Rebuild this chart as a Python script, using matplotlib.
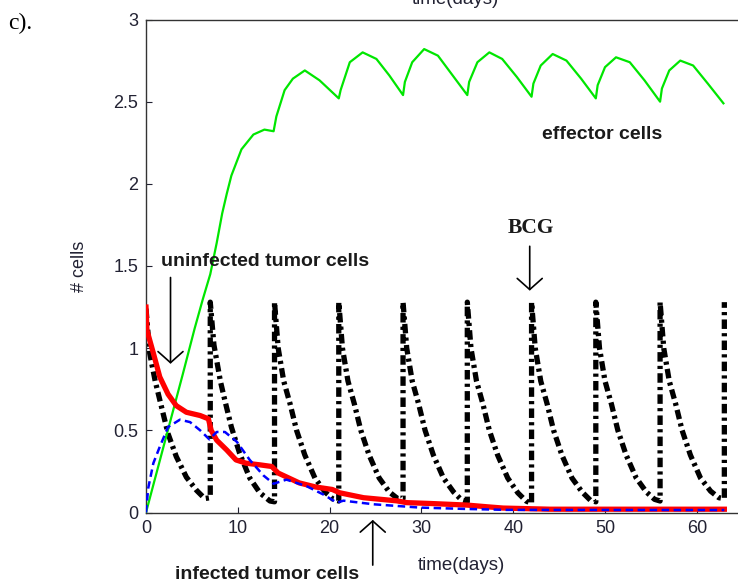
import matplotlib
matplotlib.use('Agg')
import matplotlib.pyplot as plt

plt.rcParams['font.family'] = ['Liberation Sans', 'DejaVu Sans']

# effector cells (green)
eff_t = [0, 1, 2, 3, 4, 5.3, 6.2, 7.0, 7.7, 8.3, 8.8, 9.3, 10.4, 11.7, 12.9, 13.9,
         14.2, 15.1, 16.0, 17.3, 18.9, 21.0, 21.2, 22.2, 23.6, 25.1, 26.5, 28.0,
         28.2, 29.0, 30.3, 31.8, 33.4, 35.0, 35.2, 36.1, 37.4, 38.8, 40.4, 42.0,
         42.2, 43.0, 44.3, 45.8, 47.4, 49.0, 49.2, 50.0, 51.2, 52.7, 54.3, 56.0,
         56.2, 57.0, 58.2, 59.6, 61.2, 62.9]
eff_y = [0, 0.21, 0.42, 0.63, 0.84, 1.12, 1.30, 1.45, 1.64, 1.82, 1.94, 2.05, 2.21, 2.30, 2.33, 2.32,
         2.41, 2.57, 2.64, 2.69, 2.63, 2.52, 2.57, 2.74, 2.80, 2.76, 2.66, 2.54,
         2.62, 2.74, 2.82, 2.78, 2.66, 2.54, 2.62, 2.74, 2.80, 2.76, 2.65, 2.53,
         2.61, 2.72, 2.79, 2.75, 2.64, 2.52, 2.60, 2.71, 2.77, 2.74, 2.63, 2.50,
         2.58, 2.69, 2.75, 2.72, 2.61, 2.49]

# uninfected tumor cells (red)
unin_t = [0, 0.1, 0.8, 1.5, 2.4, 3.3, 4.4, 5.9, 6.8, 7.1, 7.7, 8.8, 9.8, 10.9, 12.4, 13.7,
          14.4, 16.7, 18.5, 20.3, 21.1, 23.7, 27.3, 28.4, 30.9, 35.0, 37.1, 38.9, 44.0, 63.0]
unin_y = [1.25, 1.11, 0.97, 0.825, 0.72, 0.65, 0.61, 0.59, 0.57, 0.50, 0.44, 0.38, 0.32, 0.30, 0.29, 0.28,
          0.24, 0.18, 0.155, 0.14, 0.12, 0.09, 0.071, 0.06, 0.055, 0.045, 0.035, 0.027, 0.02, 0.02]

# infected tumor cells (blue)
inf_t = [0, 0.07, 0.25, 0.8, 1.5, 2.4, 3.7, 4.8, 5.9, 6.9, 7.7, 8.6, 9.9, 11.3, 12.8, 13.9,
         15.3, 17.5, 19.3, 20.8, 21.5, 24.8, 29.8, 34.6, 39.3, 63.0]
inf_y = [0, 0.05, 0.15, 0.30, 0.40, 0.52, 0.565, 0.55, 0.50, 0.445, 0.49, 0.49, 0.43, 0.32, 0.225, 0.175,
         0.20, 0.16, 0.11, 0.06, 0.072, 0.05, 0.03, 0.022, 0.016, 0.015]

# BCG (black dash-dot), one row per dosing period
bcg_t = [0, 0.4, 1.0, 1.7, 2.4, 3.3, 4.4, 5.5, 6.4, 7.0,
         7.0, 7.4, 8.1, 8.6, 9.3, 10.2, 11.3, 12.4, 13.5, 14.0,
         14.0, 14.4, 15.0, 15.7, 16.4, 17.3, 18.4, 19.5, 20.4, 21.0,
         21.0, 21.4, 22.0, 22.7, 23.4, 24.3, 25.4, 26.5, 27.4, 28.0,
         28.0, 28.4, 29.0, 29.7, 30.4, 31.3, 32.4, 33.5, 34.4, 35.0,
         35.0, 35.4, 36.0, 36.7, 37.4, 38.3, 39.4, 40.5, 41.4, 42.0,
         42.0, 42.4, 43.0, 43.7, 44.4, 45.3, 46.4, 47.5, 48.4, 49.0,
         49.0, 49.4, 50.0, 50.7, 51.4, 52.3, 53.4, 54.5, 55.4, 56.0,
         56.0, 56.4, 57.0, 57.7, 58.4, 59.3, 60.4, 61.5, 62.4, 63.0,
         63.0]
bcg_y = [1.24, 0.97, 0.80, 0.64, 0.48, 0.34, 0.215, 0.135, 0.085, 0.09,
         1.28, 1.02, 0.80, 0.68, 0.52, 0.36, 0.21, 0.12, 0.07, 0.065,
         1.28, 1.00, 0.80, 0.66, 0.50, 0.35, 0.21, 0.125, 0.08, 0.07,
         1.28, 1.00, 0.80, 0.66, 0.50, 0.35, 0.21, 0.125, 0.085, 0.085,
         1.28, 1.00, 0.80, 0.66, 0.50, 0.35, 0.21, 0.125, 0.075, 0.065,
         1.28, 1.00, 0.80, 0.66, 0.50, 0.35, 0.21, 0.12, 0.07, 0.055,
         1.28, 1.00, 0.80, 0.66, 0.50, 0.35, 0.21, 0.125, 0.075, 0.065,
         1.28, 1.00, 0.80, 0.66, 0.50, 0.35, 0.21, 0.125, 0.08, 0.07,
         1.28, 1.00, 0.80, 0.66, 0.50, 0.35, 0.21, 0.13, 0.09, 0.085,
         1.28]

xticks = [0, 10, 20, 30, 40, 50, 60]
yticks = [0, 0.5, 1, 1.5, 2, 2.5, 3]
ytick_labels = ['0', '0.5', '1', '1.5', '2', '2.5', '3']

fig = plt.figure(figsize=(7.38, 5.88), dpi=100)
ax = fig.add_axes([146 / 738, (588 - 512.5) / 588, (738 - 146) / 738, (512.5 - 19.5) / 588])

ax.plot(bcg_t, bcg_y, color='black', lw=3.8, linestyle=(0, (1.8, 0.8, 0.6, 0.8)), zorder=2)
ax.plot(eff_t, eff_y, color='#00e600', lw=1.6, zorder=3)
ax.plot(unin_t, unin_y, color='#ff0000', lw=3.8, zorder=4)
ax.plot(inf_t, inf_y, color='#0000ff', lw=1.8, linestyle=(0, (3.0, 1.8)), zorder=5)

ax.set_xlim(0, 592 / 9.18)
ax.set_ylim(0, 3)
ax.set_xticks(xticks)
ax.set_yticks(yticks)
ax.set_yticklabels(ytick_labels)
ax.tick_params(direction='in', length=4, labelsize=13, colors='#222233', pad=5.5)
ax.spines['right'].set_visible(False)
for s in ['top', 'left', 'bottom']:
    ax.spines[s].set_color('#333333')
    ax.spines[s].set_linewidth(1.0)

ax.set_xlabel('time(days)', fontsize=13.5, color='#222233')
ax.xaxis.set_label_coords((461.7 - 146) / 592, -(556.7 - 512.5) / 493)
ax.set_ylabel('# cells', fontsize=13, color='#222233')
ax.yaxis.set_label_coords((88 - 146) / 592, (512.5 - 266.5) / 493)

bold = dict(fontsize=14, fontweight='bold', color='#1a1a1a', ha='center', va='center')
ax.text(13.0, 1.53, 'uninfected tumor cells', **bold)
ax.text(49.7, 2.30, 'effector cells', **bold)
ax.text(13.15, -0.38, 'infected tumor cells', clip_on=False, **bold)
ax.text(41.9, 1.73, 'BCG', family='Liberation Serif', fontsize=15.5, fontweight='bold',
        color='#1a1a1a', ha='center', va='center')

arrow = dict(arrowstyle='->,head_length=0.4,head_width=0.45', lw=1.2, color='black',
             mutation_scale=20, shrinkA=0, shrinkB=0)
ax.annotate('', xy=(2.67, 0.905), xytext=(2.67, 1.43), arrowprops=arrow)
ax.annotate('', xy=(41.8, 1.35), xytext=(41.8, 1.62), arrowprops=arrow)
ax.annotate('', xy=(24.7, -0.045), xytext=(24.7, -0.32), arrowprops=arrow,
            annotation_clip=False)

fig.text(8 / 738, 1 - 23 / 588, 'c).', family='Liberation Serif', fontsize=17, va='center')
# label of the panel above, cut off by the top edge
fig.text(455 / 738, 1 - 4 / 588, 'time(days)', fontsize=13.5, color='#222233',
         ha='center', va='baseline')

fig.savefig('out.png', dpi=100)
